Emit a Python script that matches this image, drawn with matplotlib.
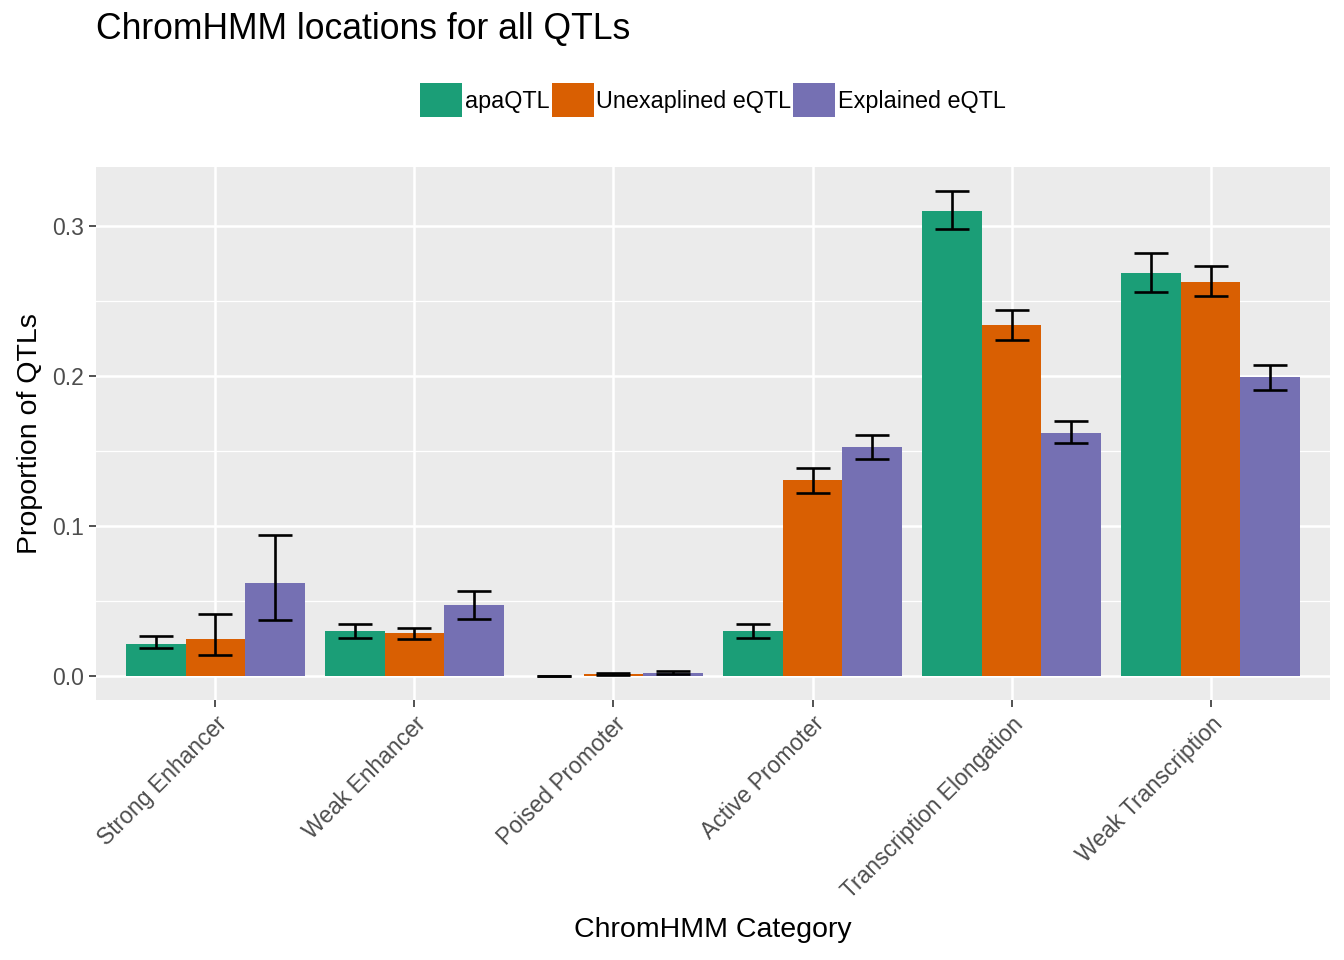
import matplotlib
matplotlib.use("Agg")
import matplotlib.pyplot as plt
import numpy as np

plt.rcParams['font.family'] = ['Liberation Sans', 'DejaVu Sans']

categories = ["Strong Enhancer", "Weak Enhancer", "Poised Promoter",
              "Active Promoter", "Transcription Elongation", "Weak Transcription"]
series = ["apaQTL", "Unexaplined eQTL", "Explained eQTL"]
colors = ["#1B9E77", "#D95F02", "#7570B3"]

apa_vals = [0.0213, 0.0300, 0.0000, 0.0300, 0.3100, 0.2687]
apa_lo   = [0.0187, 0.0253, 0.0000, 0.0253, 0.2980, 0.2560]
apa_hi   = [0.0267, 0.0347, 0.0000, 0.0347, 0.3233, 0.2820]

unexp_vals = [0.0247, 0.0287, 0.0010, 0.1307, 0.2340, 0.2627]
unexp_lo   = [0.0138, 0.0247, 0.0003, 0.1220, 0.2240, 0.2533]
unexp_hi   = [0.0413, 0.0320, 0.0017, 0.1387, 0.2440, 0.2733]

expl_vals = [0.0622, 0.0473, 0.0020, 0.1527, 0.1620, 0.1993]
expl_lo   = [0.0371, 0.0380, 0.0013, 0.1447, 0.1553, 0.1907]
expl_hi   = [0.0942, 0.0567, 0.0030, 0.1607, 0.1700, 0.2073]

vals = [apa_vals, unexp_vals, expl_vals]
los = [apa_lo, unexp_lo, expl_lo]
his = [apa_hi, unexp_hi, expl_hi]

fig = plt.figure(figsize=(13.44, 9.6), dpi=100)
ax = fig.add_axes([96/1344, 1 - 700/960, (1330-96)/1344, (700-167)/960])
ax.set_facecolor("#EBEBEB")

x = np.arange(len(categories))
w = 0.3
for i in range(3):
    xs = x + (i - 1) * w
    v = np.array(vals[i]); lo = np.array(los[i]); hi = np.array(his[i])
    ax.bar(xs, v, width=w, color=colors[i], zorder=2, label=series[i])
    ax.errorbar(xs, v, yerr=[v - lo, hi - v], fmt='none', ecolor='black',
                elinewidth=1.9, capsize=12, capthick=1.9, zorder=3)

ax.set_xlim(-0.6, 5.6)
ax.set_ylim(-0.0162, 0.3395)
ax.set_yticks([0.0, 0.1, 0.2, 0.3])
ax.set_yticklabels(["0.0", "0.1", "0.2", "0.3"])
ax.set_yticks([0.05, 0.15, 0.25], minor=True)
ax.set_xticks(x)
ax.set_xticklabels(categories, rotation=45, ha='right', va='top',
                   rotation_mode='anchor')
ax.grid(which='major', color='white', linewidth=1.8, zorder=0)
ax.grid(which='minor', axis='y', color='white', linewidth=0.9, zorder=0)
ax.set_axisbelow(True)
for s in ax.spines.values():
    s.set_visible(False)
ax.tick_params(axis='both', which='major', colors='#333333', labelcolor='#4D4D4D',
               labelsize=16.5, length=5, width=1.2)
ax.tick_params(axis='x', which='major', pad=4)
ax.tick_params(axis='y', which='minor', length=0)

ax.set_xlabel("ChromHMM Category", fontsize=20.5, labelpad=10)
ax.set_ylabel("Proportion of QTLs", fontsize=20.5, labelpad=7)

fig.text(96/1344, 1 - 30/960, "ChromHMM locations for all QTLs", fontsize=25.6,
         ha='left', va='center')

leg = ax.legend(loc='center', bbox_to_anchor=(713/1344, 1 - 100/960),
                bbox_transform=fig.transFigure, ncol=3, frameon=False,
                handlelength=1.8, handleheight=1.8, handletextpad=0.1,
                columnspacing=0.1, fontsize=16.8, borderaxespad=0)

fig.savefig("out.png", dpi=100)
